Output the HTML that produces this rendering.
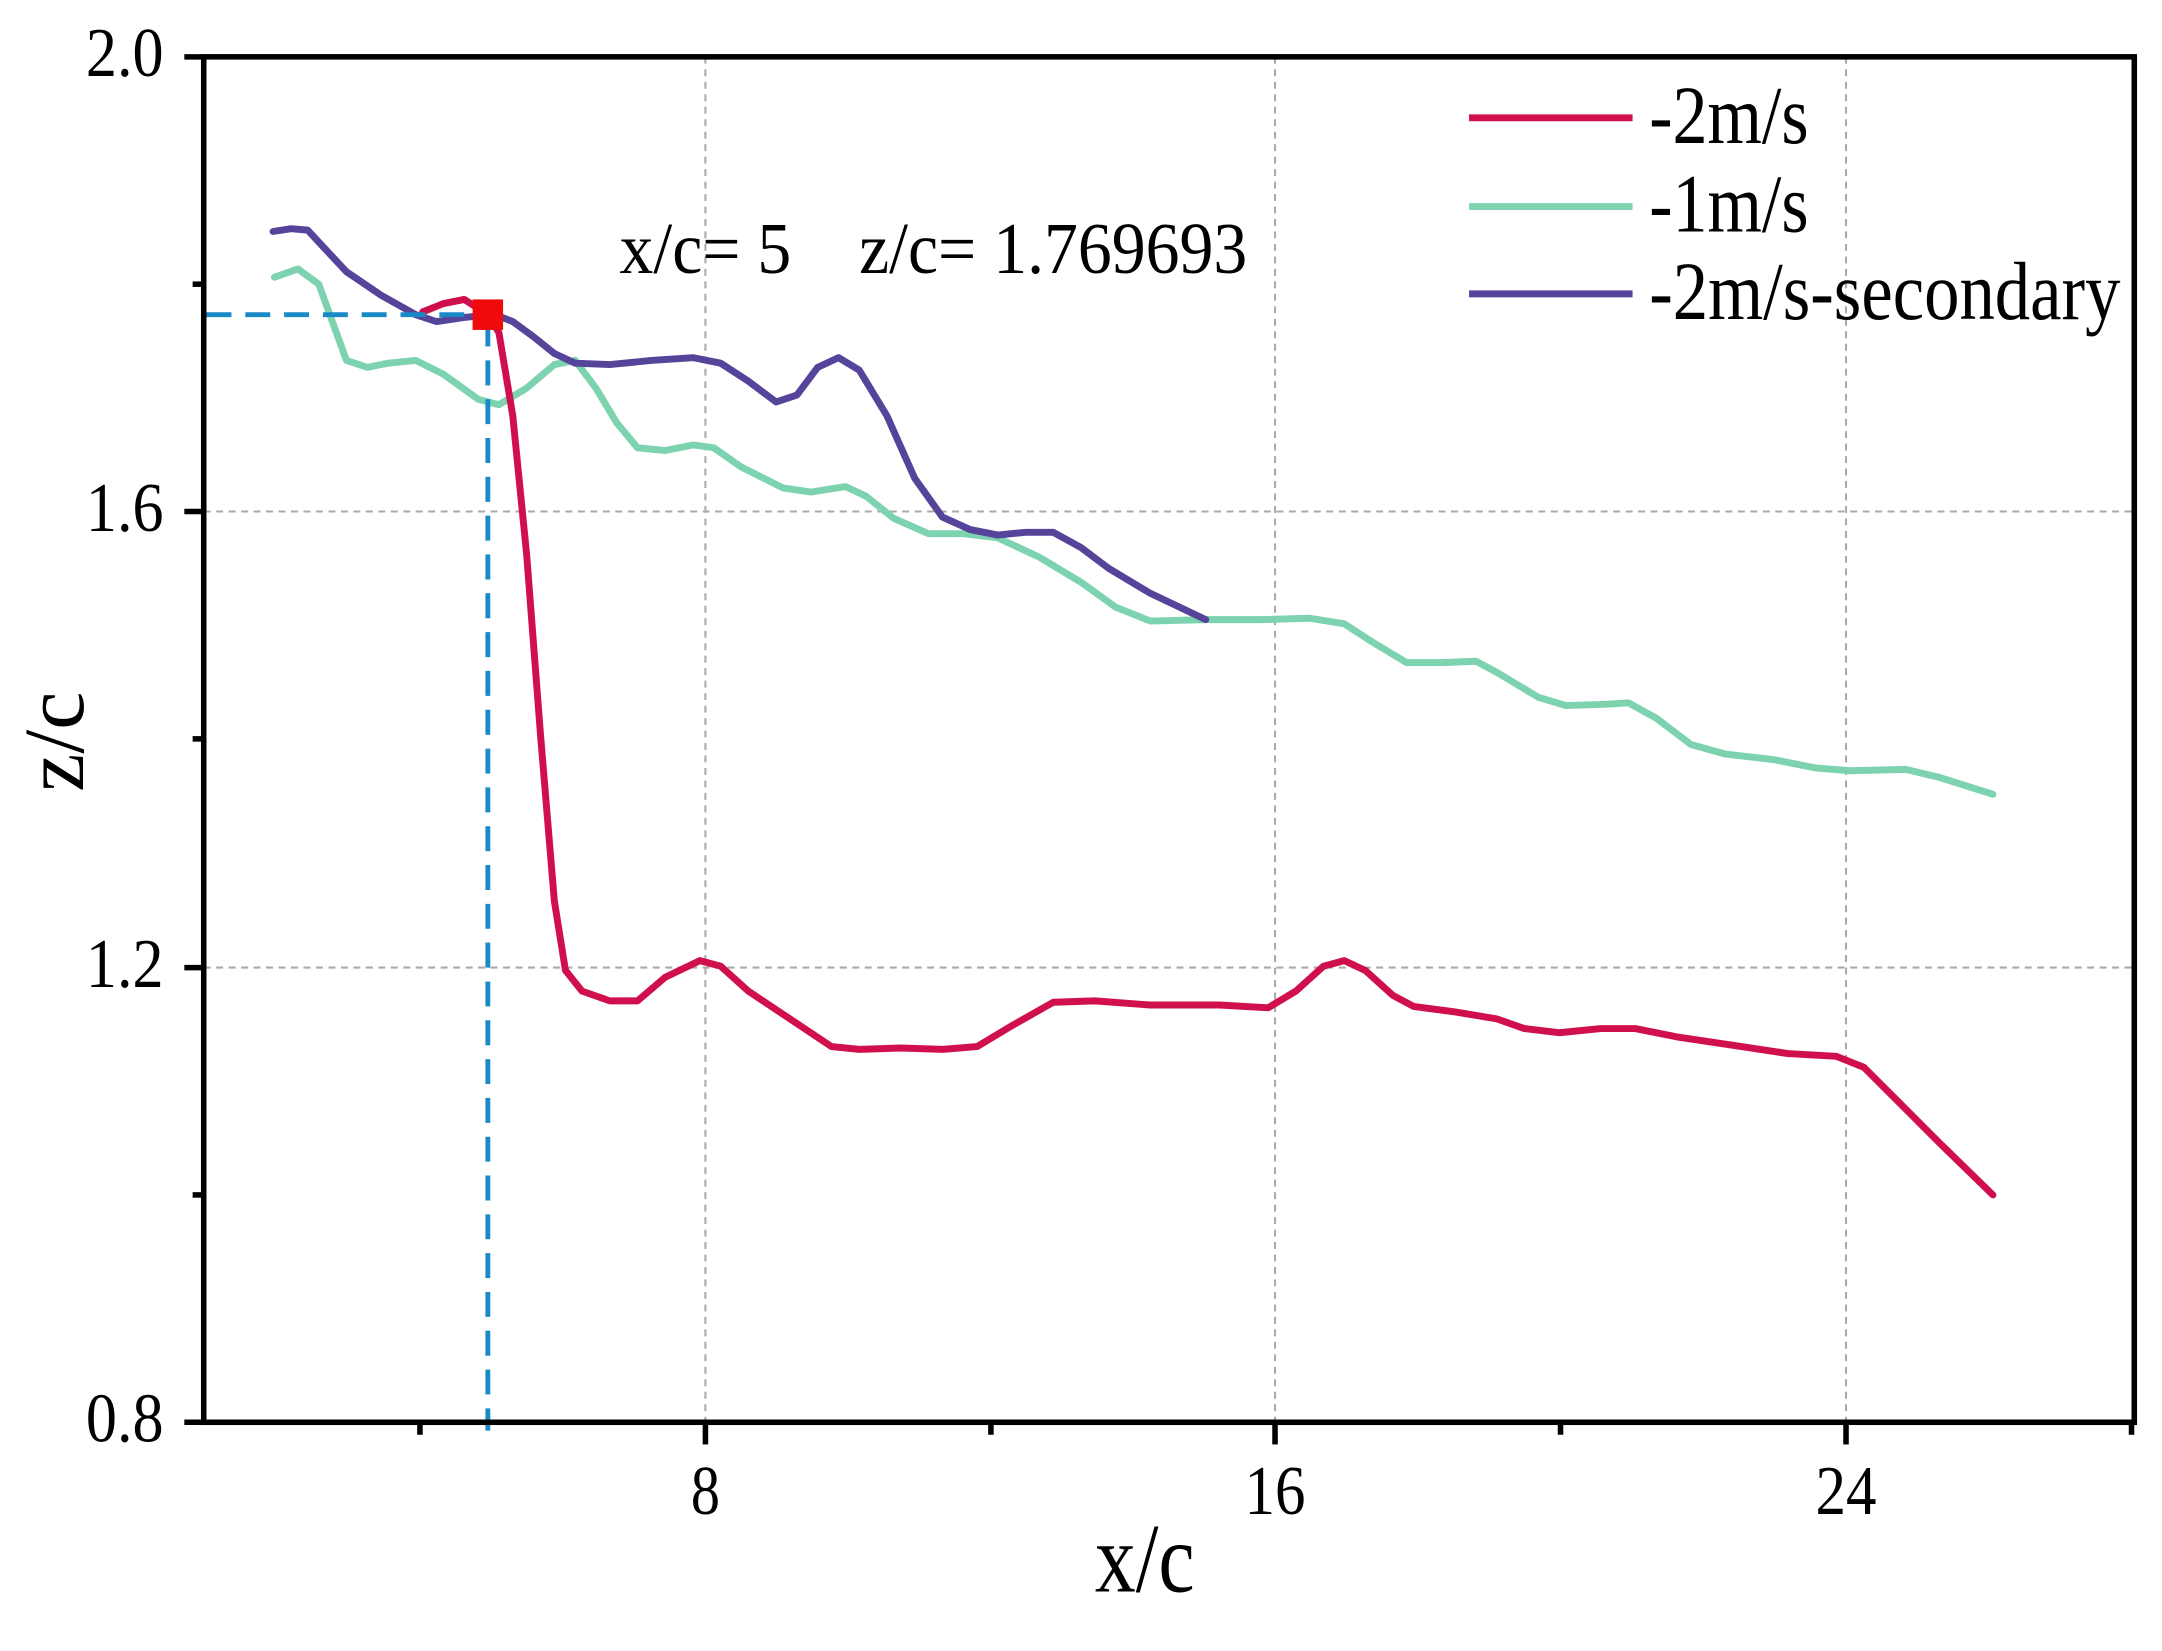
<!DOCTYPE html>
<html><head><meta charset="utf-8"><style>html,body{margin:0;padding:0;background:#fff}svg{display:block}</style></head>
<body>
<svg width="2162" height="1651" viewBox="0 0 1560 1191" preserveAspectRatio="none" xmlns="http://www.w3.org/2000/svg" font-family="Liberation Serif, serif">
<rect width="1560" height="1191" fill="#fff"/>
<g stroke="#aaa" stroke-width="1.5" stroke-dasharray="5,4">
<line x1="509" y1="41" x2="509" y2="1026"/><line x1="920" y1="41" x2="920" y2="1026"/><line x1="1332" y1="41" x2="1332" y2="1026"/>
<line x1="147" y1="369" x2="1540" y2="369"/><line x1="147" y1="698" x2="1540" y2="698"/>
</g>
<g fill="none" stroke-width="5" stroke-linejoin="round" stroke-linecap="round">
<path stroke="#7dd3b0" d="M198,200 L215,194 230,205 250,260 265,265 280,262 300,260 320,270 345,288 360,292 380,280 400,263 415,260 430,280 445,305 460,323 480,325 500,321 515,323 535,337 565,352 585,355 610,351 625,358 645,374 670,385 695,385 720,388 750,402 780,420 805,438 830,448 870,447 910,447 945,446 970,450 990,463 1015,478 1040,478 1065,477 1080,485 1110,503 1130,509 1160,508 1175,507 1195,518 1220,537 1245,544 1280,548 1310,554 1335,556 1375,555 1400,561 1438,573"/>
<path stroke="#d0104c" d="M305,225 L320,219 335,216 352,227 360,240 370,300 380,400 390,530 400,650 408,700 420,715 440,722 460,722 480,705 505,693 520,697 540,715 570,735 600,755 620,757 650,756 680,757 705,755 730,740 760,723 790,722 830,725 880,725 915,727 935,715 955,697 970,693 985,700 1005,718 1020,726 1050,730 1080,735 1100,742 1125,745 1155,742 1180,742 1210,748 1250,754 1290,760 1325,762 1345,770 1370,795 1400,825 1438,862"/>
<path stroke="#56439a" d="M197,167 L210,165 222,166 235,180 250,196 275,213 300,227 315,232 335,229 345,228 355,226 370,232 385,243 400,255 415,262 440,263 470,260 500,258 520,262 540,275 560,290 575,285 590,265 605,258 620,267 640,300 660,345 680,373 700,382 720,386 740,384 760,384 780,395 800,410 830,428 870,447"/>
</g>
<g stroke="#1a8ac7" stroke-width="3.5" stroke-dasharray="18,10" fill="none">
<line x1="149" y1="227" x2="352" y2="227"/><line x1="352" y1="232" x2="352" y2="1032"/>
</g>
<rect x="341" y="216" width="22" height="22" fill="#f00a0a"/>
<g stroke="#000" stroke-width="4" fill="none">
<rect x="147" y="41" width="1393" height="985"/>
<line x1="509" y1="1026" x2="509" y2="1042"/><line x1="920" y1="1026" x2="920" y2="1042"/><line x1="1332" y1="1026" x2="1332" y2="1042"/>
<line x1="303" y1="1026" x2="303" y2="1035"/><line x1="715" y1="1026" x2="715" y2="1035"/><line x1="1126" y1="1026" x2="1126" y2="1035"/><line x1="1538" y1="1026" x2="1538" y2="1035"/>
<line x1="147" y1="41" x2="133" y2="41"/><line x1="147" y1="369" x2="133" y2="369"/><line x1="147" y1="698" x2="133" y2="698"/><line x1="147" y1="1026" x2="133" y2="1026"/>
<line x1="147" y1="205" x2="139" y2="205"/><line x1="147" y1="533" x2="139" y2="533"/><line x1="147" y1="862" x2="139" y2="862"/>
</g>
<g font-size="42" fill="#000">
<text transform="translate(62,55) scale(1,1.2)" textLength="56" lengthAdjust="spacingAndGlyphs">2.0</text>
<text transform="translate(62,383) scale(1,1.2)" textLength="56" lengthAdjust="spacingAndGlyphs">1.6</text>
<text transform="translate(62,712) scale(1,1.2)" textLength="56" lengthAdjust="spacingAndGlyphs">1.2</text>
<text transform="translate(62,1040) scale(1,1.2)" textLength="56" lengthAdjust="spacingAndGlyphs">0.8</text>
<text transform="translate(509,1092) scale(1,1.2)" text-anchor="middle">8</text>
<text transform="translate(898,1092) scale(1,1.2)" textLength="44" lengthAdjust="spacingAndGlyphs">16</text>
<text transform="translate(1310,1092) scale(1,1.2)" textLength="44" lengthAdjust="spacingAndGlyphs">24</text>
</g>
<text transform="translate(790,1148) scale(1,1.15)" font-size="62" textLength="72" lengthAdjust="spacingAndGlyphs">x/c</text>
<text transform="translate(60,535) rotate(-90)" font-size="62" text-anchor="middle">z/c</text>
<text transform="translate(447,197) scale(1,1.15)" font-size="46" xml:space="preserve" textLength="453" lengthAdjust="spacingAndGlyphs">x/c= 5    z/c= 1.769693</text>
<g stroke-width="5">
<line x1="1060" y1="85" x2="1178" y2="85" stroke="#d0104c"/>
<line x1="1060" y1="149" x2="1178" y2="149" stroke="#7dd3b0"/>
<line x1="1060" y1="212" x2="1178" y2="212" stroke="#56439a"/>
</g>
<g font-size="52">
<text transform="translate(1190,103) scale(1,1.15)" textLength="115" lengthAdjust="spacingAndGlyphs">-2m/s</text>
<text transform="translate(1190,167) scale(1,1.15)" textLength="115" lengthAdjust="spacingAndGlyphs">-1m/s</text>
<text transform="translate(1190,230) scale(1,1.15)" textLength="340" lengthAdjust="spacingAndGlyphs">-2m/s-secondary</text>
</g>
</svg>
</body></html>
